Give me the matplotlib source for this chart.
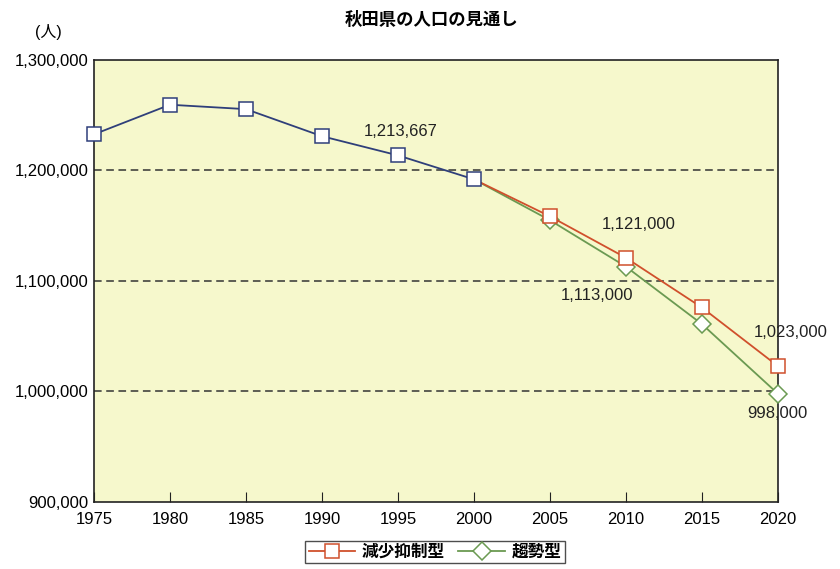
import matplotlib
matplotlib.use("Agg")
import matplotlib.pyplot as plt
from matplotlib.ticker import FuncFormatter

plt.rcParams['font.family'] = ['Liberation Sans', 'Noto Sans CJK JP', 'DejaVu Sans']

years_actual = [1975, 1980, 1985, 1990, 1995, 2000]
pop_actual = [1232700, 1259500, 1255500, 1231000, 1213667, 1192000]

years_proj = [2000, 2005, 2010, 2015, 2020]
pop_suppress = [1192000, 1158500, 1121000, 1076000, 1023000]  # 減少抑制型
pop_trend = [1192000, 1155000, 1113000, 1061000, 998000]      # 趨勢型

x_ticks = [1975, 1980, 1985, 1990, 1995, 2000, 2005, 2010, 2015, 2020]
y_ticks = [900000, 1000000, 1100000, 1200000, 1300000]

labels = [
    (1995, 1213667, "1,213,667"),
    (2010, 1121000, "1,121,000"),
    (2010, 1113000, "1,113,000"),
    (2020, 1023000, "1,023,000"),
    (2020, 998000, "998,000"),
]

fig = plt.figure(figsize=(8.4, 5.69), dpi=100)
ax = fig.add_axes([0.1119, 0.1178, 0.8141, 0.7768])
ax.set_facecolor('#f6f8cc')

for y in [1000000, 1100000, 1200000]:
    ax.axhline(y, color='#333333', lw=1.1, ls=(0, (5, 3)), zorder=1)

blue = '#2f3f7a'
orange = '#d0502c'
green = '#6b9a52'

ax.plot(years_actual, pop_actual, color=blue, lw=1.3, marker='s', ms=10,
        mfc='white', mec=blue, mew=1.1, zorder=3, clip_on=False)
l2, = ax.plot(years_proj[1:], pop_trend[1:], color=green, lw=1.3, marker='D', ms=9,
        mfc='white', mec=green, mew=1.1, zorder=3, clip_on=False)
ax.plot(years_proj[:2], pop_trend[:2], color=green, lw=1.3, zorder=2)
l1, = ax.plot(years_proj[1:], pop_suppress[1:], color=orange, lw=1.3, marker='s', ms=10,
        mfc='white', mec=orange, mew=1.1, zorder=4, clip_on=False)
ax.plot(years_proj[:2], pop_suppress[:2], color=orange, lw=1.3, zorder=2)

ax.set_xlim(1975, 2020)
ax.set_ylim(900000, 1300000)
ax.set_xticks(x_ticks)
ax.set_yticks(y_ticks)
ax.yaxis.set_major_formatter(FuncFormatter(lambda v, p: f"{int(v):,}"))
ax.tick_params(axis='x', direction='in', length=7, labelsize=12, pad=7, color='#222222')
ax.tick_params(axis='y', length=0, labelsize=12, pad=4)
for s in ax.spines.values():
    s.set_color('#222222')
    s.set_linewidth(1.2)

offsets = [(2, 17), (9, 24), (-21, -21), (9, 24), (0, -14)]
for (x, y, t), (dx, dy) in zip(labels, offsets):
    ax.annotate(t, (x, y), xytext=(dx, dy), textcoords='offset points',
                ha='center', va='center', fontsize=12, color='#222222',
                annotation_clip=False, zorder=5)

fig.text(0.514, 0.966, "秋田県の人口の見通し", ha='center', va='center', fontsize=12.5,
         fontweight='bold')
fig.text(0.057, 0.944, "(人)", ha='center', va='center', fontsize=11.5)

leg = fig.legend([l1, l2], ["減少抑制型", "趨勢型"], loc='center',
                 bbox_to_anchor=(0.518, 0.03), ncol=2, frameon=True,
                 fancybox=False, edgecolor='#222222',
                 prop={'size': 12, 'weight': 'bold'},
                 handlelength=2.8, columnspacing=0.8, handletextpad=0.4,
                 borderpad=0.2)
leg.get_frame().set_linewidth(1.0)

fig.savefig('out.png', dpi=100, facecolor='white')
